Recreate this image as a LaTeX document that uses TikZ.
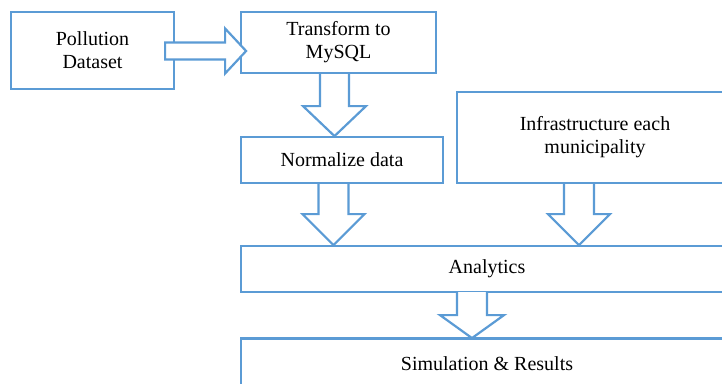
\documentclass[tikz,border=0pt]{standalone}
\usepackage{fontspec}
\setmainfont{Liberation Serif}
\usetikzlibrary{calc}
\definecolor{bluel}{HTML}{5B9BD5}
\begin{document}
\begin{tikzpicture}[x=1pt,y=-1pt,
  box/.style={draw=bluel,line width=2.2pt,fill=white,align=center,inner sep=0pt,
    font=\fontsize{20}{23}\selectfont},
  blockarr/.style={draw=bluel,line width=2.2pt,fill=white,line join=miter}]
\useasboundingbox (0,0) rectangle (722,383);
\clip (0,0) rectangle (722,383);
\node[box,minimum width=163pt,minimum height=77pt] (poll) at (92.5,50.5) {Pollution\\Dataset};
\node[box,minimum width=195pt,minimum height=61pt] (trans) at (338.5,42.5) {Transform to\\MySQL};
\node[box,minimum width=202pt,minimum height=46pt] (norm) at (342,160) {Normalize data};
\node[box,minimum width=276pt,minimum height=91pt] (infra) at (595,137.5) {Infrastructure each\\municipality};
\node[box,minimum width=492pt,minimum height=46pt] (anal) at (487,269) {Analytics};
\node[box,minimum width=492pt,minimum height=50pt] (sim) at (487,363.5) {Simulation \& Results};
% Pollution -> Transform
\draw[blockarr] ($(poll.east)+(-10,-8)$) -- ++(60,0) -- ++(0,-14) -- ++(21,22.5) -- ++(-21,22.5) -- ++(0,-14) -- ++(-60,0) -- cycle;
% Transform -> Normalize
\draw[blockarr] ($(trans.south)+(-18.5,0)$) -- ++(0,32) -- ++(-17,0) -- ++(31.5,30) -- ++(31.5,-30) -- ++(-17,0) -- ++(0,-32);
% Normalize -> Analytics
\draw[blockarr] ($(norm.south)+(-23.5,0)$) -- ++(0,30) -- ++(-16,0) -- ++(31,31) -- ++(31,-31) -- ++(-16,0) -- ++(0,-30);
% Infrastructure -> Analytics
\draw[blockarr] ($(infra.south)+(-31,0)$) -- ++(0,30) -- ++(-16,0) -- ++(31,31) -- ++(31,-31) -- ++(-16,0) -- ++(0,-30);
% Analytics -> Simulation
\draw[blockarr] ($(anal.south)+(-30,-1)$) -- ++(0,23) -- ++(-17,0) -- ++(32,23) -- ++(32,-23) -- ++(-17,0) -- ++(0,-23);
\end{tikzpicture}
\end{document}
